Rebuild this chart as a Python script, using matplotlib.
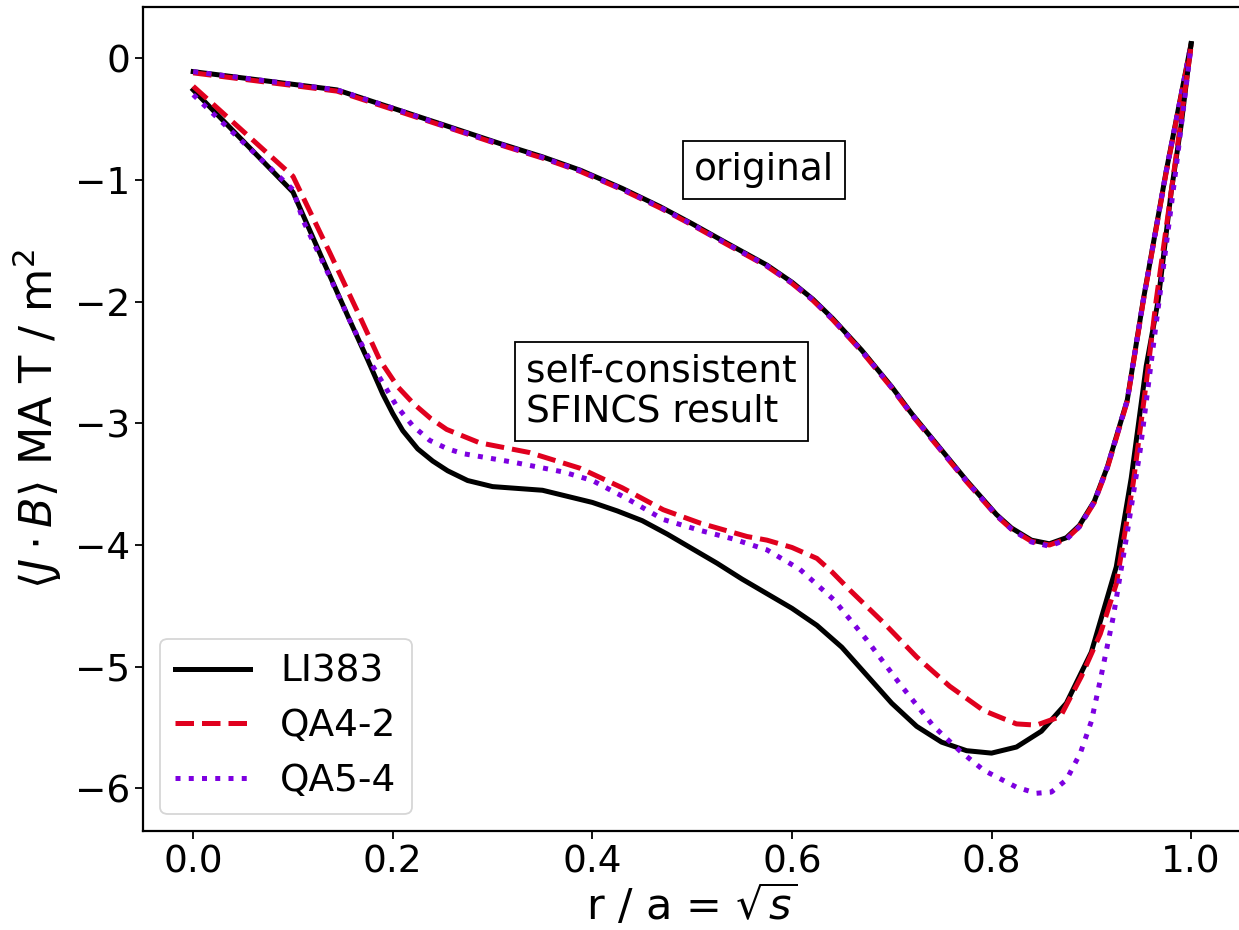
import matplotlib
matplotlib.use("Agg")
import matplotlib.pyplot as plt

# ---------------- data ----------------
# "original" profiles
r_orig = [0.0, 0.144, 0.2, 0.25, 0.307, 0.35, 0.388, 0.43, 0.468, 0.5, 0.535, 0.575, 0.6,
          0.621, 0.641, 0.67, 0.7, 0.72, 0.75, 0.775, 0.805, 0.82, 0.84, 0.858, 0.875,
          0.888, 0.903, 0.916, 0.936, 0.952, 0.975, 1.0]
li383_orig = [-0.11, -0.26, -0.41, -0.545, -0.70, -0.81, -0.92, -1.07, -1.22, -1.36, -1.52,
              -1.70, -1.84, -1.98, -2.14, -2.40, -2.70, -2.92, -3.22, -3.47, -3.75, -3.86,
              -3.96, -3.99, -3.94, -3.84, -3.64, -3.36, -2.81, -1.99, -0.93, 0.12]
qa42_orig = [-0.12, -0.27, -0.42, -0.555, -0.71, -0.82, -0.93, -1.08, -1.23, -1.37, -1.53,
             -1.71, -1.85, -1.99, -2.15, -2.41, -2.71, -2.93, -3.23, -3.48, -3.76, -3.87,
             -3.97, -4.00, -3.95, -3.85, -3.65, -3.37, -2.82, -2.00, -0.94, 0.11]
qa54_orig = [-0.11, -0.26, -0.41, -0.55, -0.705, -0.815, -0.925, -1.075, -1.225, -1.365, -1.525,
             -1.705, -1.845, -1.985, -2.145, -2.405, -2.705, -2.925, -3.225, -3.475, -3.755, -3.87,
             -3.975, -4.01, -3.955, -3.85, -3.645, -3.36, -2.81, -1.99, -0.93, 0.12]

# self-consistent SFINCS profiles
r_li383 = [0.0, 0.1, 0.13, 0.155, 0.175, 0.19, 0.2, 0.21, 0.225, 0.24, 0.255, 0.275, 0.3,
           0.35, 0.4, 0.425, 0.45, 0.475, 0.5, 0.525, 0.55, 0.575, 0.6, 0.625, 0.65, 0.675,
           0.7, 0.725, 0.75, 0.775, 0.8, 0.825, 0.85, 0.875, 0.9, 0.925, 0.94, 0.955, 0.967,
           0.98, 0.99, 1.0]
j_li383 = [-0.26, -1.10, -1.66, -2.12, -2.48, -2.76, -2.92, -3.06, -3.21, -3.31, -3.39, -3.47,
           -3.52, -3.55, -3.65, -3.72, -3.80, -3.91, -4.03, -4.15, -4.28, -4.40, -4.52, -4.66,
           -4.84, -5.07, -5.30, -5.49, -5.62, -5.69, -5.71, -5.66, -5.53, -5.30, -4.88, -4.18,
           -3.45, -2.53, -1.99, -1.10, -0.55, 0.12]

r_qa42 = [0.0, 0.1, 0.137, 0.164, 0.187, 0.205, 0.221, 0.238, 0.254, 0.287, 0.337, 0.388,
          0.43, 0.471, 0.508, 0.555, 0.575, 0.6, 0.625, 0.64, 0.658, 0.692, 0.725, 0.758,
          0.792, 0.825, 0.845, 0.869, 0.89, 0.909, 0.925, 0.942, 0.955, 0.965, 0.98, 0.99, 1.0]
j_qa42 = [-0.23, -0.97, -1.60, -2.07, -2.48, -2.70, -2.84, -2.96, -3.05, -3.16, -3.24, -3.37,
          -3.53, -3.71, -3.82, -3.93, -3.96, -4.02, -4.11, -4.22, -4.37, -4.64, -4.92, -5.16,
          -5.36, -5.47, -5.48, -5.41, -5.08, -4.73, -4.32, -3.49, -2.67, -1.99, -1.10, -0.50, 0.10]

r_qa54 = [0.0, 0.1, 0.11, 0.137, 0.16, 0.18, 0.204, 0.22, 0.237, 0.255, 0.271, 0.321, 0.371,
          0.4, 0.435, 0.471, 0.508, 0.541, 0.575, 0.608, 0.642, 0.675, 0.708, 0.742, 0.768,
          0.792, 0.825, 0.845, 0.86, 0.875, 0.889, 0.9, 0.909, 0.922, 0.936, 0.949, 0.96,
          0.968, 0.985, 1.0]
j_qa54 = [-0.30, -1.08, -1.33, -1.80, -2.21, -2.53, -2.86, -3.02, -3.14, -3.21, -3.25, -3.32,
          -3.40, -3.47, -3.62, -3.79, -3.88, -3.95, -4.04, -4.20, -4.45, -4.78, -5.14, -5.49,
          -5.69, -5.85, -5.99, -6.04, -6.03, -5.93, -5.71, -5.45, -5.11, -4.59, -3.90, -3.22,
          -2.50, -1.99, -0.90, 0.10]

labels = ["LI383", "QA4-2", "QA5-4"]
x_ticks = [0.0, 0.2, 0.4, 0.6, 0.8, 1.0]
y_ticks = [0, -1, -2, -3, -4, -5, -6]

# ---------------- style ----------------
c_black = "black"
c_red = "#e0001e"
c_purple = "#7d00e0"
lw = 3.6
fs = 27

fig = plt.figure(figsize=(12.39, 9.30), dpi=100)
ax = fig.add_axes([143.3 / 1239, 1 - 831 / 930, (1241 - 143.3) / 1239, (831 - 7.5) / 930])

ax.plot(r_orig, li383_orig, color=c_black, lw=lw, ls="-", label=labels[0])
ax.plot(r_orig, qa42_orig, color=c_red, lw=lw, ls="--", label=labels[1])
ax.plot(r_orig, qa54_orig, color=c_purple, lw=lw, ls=":", label=labels[2])

ax.plot(r_li383, j_li383, color=c_black, lw=lw, ls="-")
ax.plot(r_qa42, j_qa42, color=c_red, lw=lw, ls="--")
ax.plot(r_qa54, j_qa54, color=c_purple, lw=lw, ls=":")

ax.set_xlim(-0.05, 1.05)
ax.set_ylim(-6.35, 0.417)
ax.set_xticks(x_ticks)
ax.set_yticks(y_ticks)
ax.tick_params(labelsize=fs, length=6, width=1.3)
for s in ax.spines.values():
    s.set_linewidth(1.6)

ax.set_xlabel(r"r / a = $\sqrt{s}$", fontsize=31, labelpad=2)
ax.set_ylabel(r"$\langle J \cdot B\rangle$ MA T / m$^2$", fontsize=32, labelpad=8)

box = dict(boxstyle="square,pad=0.3", fc="white", ec="black", lw=1.3)
ax.text(0.572, -0.918, "original", fontsize=fs, ha="center", va="center", bbox=box)
ax.text(0.4695, -2.74, "self-consistent\nSFINCS result", fontsize=fs, ha="center",
        va="center", multialignment="left", bbox=box, linespacing=1.15)

leg = ax.legend(loc="lower left", fontsize=fs, frameon=True, handlelength=2.0,
                borderaxespad=0.45)
leg.get_frame().set_linewidth(1.3)

fig.savefig("out.png", dpi=100)
